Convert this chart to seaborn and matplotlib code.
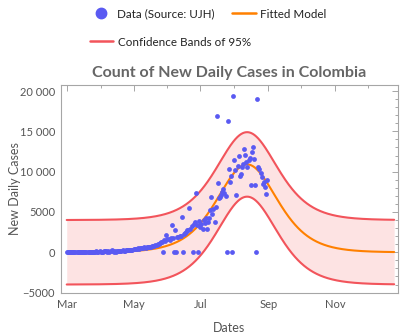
import numpy as np
import pandas as pd
import matplotlib
matplotlib.use("Agg")
import matplotlib.pyplot as plt
import matplotlib.dates as mdates
from matplotlib.lines import Line2D
from matplotlib.ticker import MultipleLocator, FuncFormatter
import seaborn as sns

# Daily new cases, Colombia, 1 Mar 2020 onwards (one value per day)
march = [0, 0, 0, 0, 0, 1, 0, 0, 2, 0, 6, 3, 6, 11, 22, 9, 20, 27, 35, 34,
         52, 65, 77, 72, 36, 90, 21, 115, 69, 94, 108]
april = [96, 58, 92, 143, 174, 101, 87, 121, 66, 148, 274, 110, 79, 98, 66,
         150, 114, 130, 153, 167, 253, 188, 149, 244, 227, 233, 253, 263, 233, 224]
may = [400, 420, 380, 450, 470, 430, 500, 520, 560, 540,
       600, 580, 620, 650, 640, 700, 680, 720, 760, 800,
       900, 950, 1000, 1050, 1150, 1300, 1250, 0, 1500, 1400, 2100]
june = [1600, 1700, 1550, 1800, 3385, 1750, 0, 2765, 0, 1900,
        1950, 2050, 2000, 4415, 0, 2300, 2400, 2550, 2750, 2800,
        5455, 2900, 3200, 0, 3500, 3700, 7315, 3400, 0, 3900]
july = [3100, 3500, 2900, 4000, 3600, 4200, 2900, 3800, 4300, 5300,
        6800, 4800, 5400, 3800, 5600, 16940, 8550, 6700, 6800, 7100,
        7500, 7900, 7300, 7000, 0, 16280, 10290, 8680, 9500, 0, 19420]
august = [11445, 10205, 7105, 10700, 11980, 9460, 9670, 10540, 11000, 12810,
          12030, 11235, 10600, 11445, 11655, 8345, 12440, 13020, 11530, 8385,
          0, 19010, 10540, 10290, 9800, 9375, 8470, 8700, 8060, 7190, 8965]

new_cases = march + april + may + june + july + august
dates = pd.date_range("2020-03-01", periods=len(new_cases), freq="D")

# Fitted epidemic curve (logistic-derivative shape) and its 95% band
peak_cases = 10900
peak_date = pd.Timestamp("2020-08-12 17:00")
width_days = 18.5
band_half_width = 4000
model_start, model_end = "2020-03-01", "2020-12-25"

y_major_ticks = [-5000, 0, 5000, 10000, 15000, 20000]
x_major_months = [3, 5, 7, 9, 11]
x_minor_months = [4, 6, 8, 10, 12]

blue = "#5a5af2"
orange = "#ff8000"
red = "#f2545b"
fill = "#fde3e3"
text_grey = "#555555"
frame_grey = "#a6a6a6"

sns.set_theme(style="white")
plt.rcParams["font.family"] = ["Lato", "DejaVu Sans"]

model_dates = pd.date_range(model_start, model_end, freq="6h")
u = (model_dates - peak_date) / pd.Timedelta(days=1) / width_days
model = peak_cases / np.cosh(u / 2.0) ** 2
model_df = pd.DataFrame({"date": model_dates, "cases": model})
data_df = pd.DataFrame({"date": dates, "cases": new_cases})

fig = plt.figure(figsize=(4.01, 3.36), dpi=100)
ax = fig.add_axes([60.7 / 401, 1 - 293 / 336, (398 - 60.7) / 401, (293 - 85) / 336])

ax.fill_between(model_df["date"], model_df["cases"] - band_half_width,
                model_df["cases"] + band_half_width, color=fill, lw=0, zorder=1)
ax.plot(model_df["date"], model_df["cases"] + band_half_width, color=red, lw=1.5, zorder=2)
ax.plot(model_df["date"], model_df["cases"] - band_half_width, color=red, lw=1.5, zorder=2)
sns.lineplot(data=model_df, x="date", y="cases", ax=ax, color=orange, lw=1.5, zorder=3)
sns.scatterplot(data=data_df, x="date", y="cases", ax=ax, color=blue, s=12,
                linewidth=0, zorder=4)

ax.set_xlim(pd.Timestamp("2020-03-01") - pd.Timedelta(days=5.5),
            pd.Timestamp("2020-03-01") + pd.Timedelta(days=302.5))
ax.set_ylim(-5050, 20750)

ax.xaxis.set_major_locator(mdates.MonthLocator(bymonth=x_major_months))
ax.xaxis.set_minor_locator(mdates.MonthLocator(bymonth=x_minor_months))
ax.xaxis.set_major_formatter(mdates.DateFormatter("%b"))
ax.set_yticks(y_major_ticks)
ax.yaxis.set_minor_locator(MultipleLocator(1000))
ax.yaxis.set_major_formatter(FuncFormatter(
    lambda v, p: f"{int(v):,}".replace(",", " ") if abs(v) >= 10000 else f"{int(v)}".replace("-", "\u2212")))

for s in ax.spines.values():
    s.set_color(frame_grey)
    s.set_linewidth(0.8)
ax.tick_params(which="both", direction="in", top=True, right=True, color=frame_grey,
               labelsize=8, labelcolor=text_grey, width=0.7)
ax.tick_params(which="major", length=4, pad=4)
ax.tick_params(which="minor", length=2)

ax.set_xlabel("Dates", fontsize=9, color=text_grey, labelpad=9)
ax.set_ylabel("New Daily Cases", fontsize=9, color=text_grey, labelpad=-1)
ax.set_title("Count of New Daily Cases in Colombia", fontsize=11.5, fontweight="bold",
             color="#666666", pad=6)

legend_kw = dict(frameon=False, fontsize=8.4, handlelength=2.0, handletextpad=0.4,
                 borderpad=0, labelcolor="#222222", loc="center left")
row1 = [Line2D([], [], marker="o", ls="", color=blue, markersize=7.5),
        Line2D([], [], color=orange, lw=1.8)]
fig.legend(row1, ["Data (Source: UJH)", "Fitted Model"], ncol=2,
           bbox_to_anchor=(83.5 / 401, 1 - 14 / 336), columnspacing=1.5, **legend_kw)
row2 = [Line2D([], [], color=red, lw=1.8)]
fig.legend(row2, ["Confidence Bands of 95%"],
           bbox_to_anchor=(84 / 401, 1 - 42 / 336), **legend_kw)

fig.savefig("out.png", dpi=100)
